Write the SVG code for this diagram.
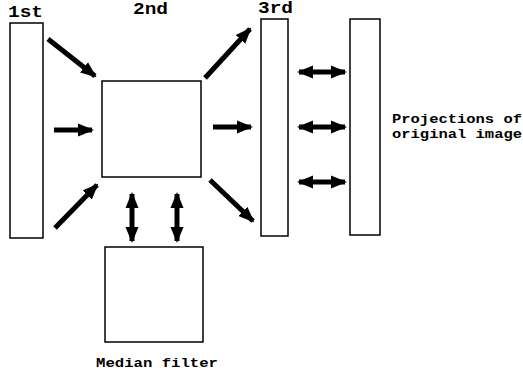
<svg xmlns="http://www.w3.org/2000/svg" width="523" height="379" viewBox="0 0 523 379">
  <style>
    .box { fill: #fff; stroke: #000; stroke-width: 1.5; }
    .lbl { font-family: "Liberation Mono", "DejaVu Sans Mono", monospace; font-weight: bold; fill: #000; }
    .big { font-size: 16px; }
    .small { font-size: 13px; }
    .arr { stroke: #000; stroke-width: 5; fill: none; }
  </style>
  <defs>
    <marker id="head" markerUnits="userSpaceOnUse" markerWidth="16" markerHeight="16" viewBox="0 0 16 16" refX="14" refY="8" orient="auto-start-reverse">
      <path d="M0,1.5 L16,8 L0,14.5 Z" fill="#000"/>
    </marker>
  </defs>
  <rect width="523" height="379" fill="#fff"/>

  <g id="stage1">
    <rect class="box" x="10" y="23" width="33" height="215"/>
    <text class="lbl big" x="8" y="17" textLength="35" lengthAdjust="spacingAndGlyphs">1st</text>
  </g>
  <g id="stage2">
    <rect class="box" x="102" y="81" width="99" height="96"/>
    <text class="lbl big" x="133" y="14" textLength="35" lengthAdjust="spacingAndGlyphs">2nd</text>
  </g>
  <g id="stage3">
    <rect class="box" x="261" y="19" width="27" height="217"/>
    <text class="lbl big" x="258" y="13" textLength="35" lengthAdjust="spacingAndGlyphs">3rd</text>
  </g>
  <g id="projections">
    <rect class="box" x="350" y="19" width="30" height="216"/>
    <text class="lbl small" x="392" y="123" textLength="130" lengthAdjust="spacingAndGlyphs">Projections of</text>
    <text class="lbl small" x="392" y="138" textLength="130" lengthAdjust="spacingAndGlyphs">original image</text>
  </g>
  <g id="median">
    <rect class="box" x="105" y="247" width="98" height="95"/>
    <text class="lbl small" x="96" y="367" textLength="122" lengthAdjust="spacingAndGlyphs">Median filter</text>
  </g>

  <g id="connectors">
    <line class="arr" x1="48" y1="39" x2="95" y2="76" marker-end="url(#head)"/>
    <line class="arr" x1="54" y1="130" x2="92" y2="130" marker-end="url(#head)"/>
    <line class="arr" x1="55" y1="228" x2="97" y2="185" marker-end="url(#head)"/>
    <line class="arr" x1="205" y1="78" x2="250" y2="29" marker-end="url(#head)"/>
    <line class="arr" x1="213" y1="127" x2="251" y2="127" marker-end="url(#head)"/>
    <line class="arr" x1="210" y1="180" x2="253" y2="221" marker-end="url(#head)"/>
    <line class="arr" x1="132" y1="194" x2="132" y2="241" marker-start="url(#head)" marker-end="url(#head)"/>
    <line class="arr" x1="177" y1="194" x2="177" y2="241" marker-start="url(#head)" marker-end="url(#head)"/>
    <line class="arr" x1="299" y1="72" x2="345" y2="72" marker-start="url(#head)" marker-end="url(#head)"/>
    <line class="arr" x1="299" y1="127" x2="345" y2="127" marker-start="url(#head)" marker-end="url(#head)"/>
    <line class="arr" x1="299" y1="182" x2="345" y2="182" marker-start="url(#head)" marker-end="url(#head)"/>
  </g>
</svg>
